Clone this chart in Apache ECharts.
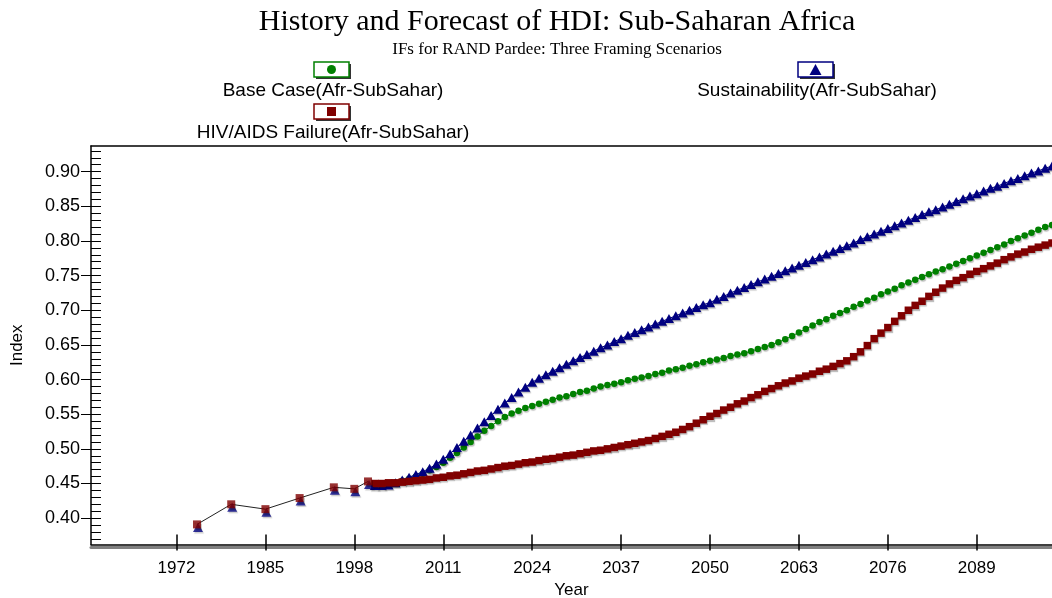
<!DOCTYPE html>
<html>
<head>
<meta charset="utf-8">
<title>History and Forecast of HDI: Sub-Saharan Africa</title>
<script src="https://cdn.jsdelivr.net/npm/echarts@6/dist/echarts.min.js"></script>
<style>
  html, body { margin: 0; padding: 0; background: #fff; }
  #main { width: 1052px; height: 598px; }
</style>
</head>
<body>
<div id="main"></div>
<script>
// history, shared by the three scenarios
var histYears = [1975, 1980, 1985, 1990, 1995, 1998, 2000];
var histValues = [0.391, 0.420, 0.413, 0.429, 0.4445, 0.4423, 0.453];

// forecasts, one value per year 2001 .. 2100
var firstForecastYear = 2001;
var baseCase = [
  0.448, 0.448, 0.449, 0.451, 0.454, 0.457, 0.460, 0.464, 0.469, 0.474,
  0.480, 0.487, 0.494, 0.502, 0.510, 0.518, 0.526, 0.533, 0.540, 0.546,
  0.551, 0.555, 0.559, 0.562, 0.565, 0.568, 0.571, 0.574, 0.576, 0.579,
  0.582, 0.584, 0.587, 0.590, 0.592, 0.594, 0.596, 0.599, 0.601, 0.603,
  0.605, 0.608, 0.610, 0.613, 0.615, 0.617, 0.620, 0.622, 0.625, 0.627,
  0.629, 0.631, 0.634, 0.636, 0.638, 0.641, 0.644, 0.647, 0.650, 0.654,
  0.658, 0.663, 0.668, 0.673, 0.678, 0.683, 0.687, 0.692, 0.696, 0.700,
  0.705, 0.709, 0.714, 0.718, 0.723, 0.727, 0.731, 0.736, 0.740, 0.744,
  0.748, 0.752, 0.756, 0.759, 0.763, 0.767, 0.771, 0.775, 0.779, 0.783,
  0.787, 0.791, 0.795, 0.800, 0.804, 0.808, 0.812, 0.816, 0.820, 0.823
];
var sustainability = [
  0.447, 0.447, 0.448, 0.451, 0.455, 0.459, 0.463, 0.467, 0.472, 0.478,
  0.485, 0.493, 0.502, 0.511, 0.520, 0.530, 0.539, 0.548, 0.557, 0.566,
  0.574, 0.582, 0.589, 0.596, 0.602, 0.607, 0.612, 0.617, 0.622, 0.627,
  0.632, 0.636, 0.641, 0.646, 0.650, 0.655, 0.659, 0.664, 0.668, 0.672,
  0.676, 0.680, 0.684, 0.688, 0.692, 0.696, 0.700, 0.704, 0.708, 0.711,
  0.716, 0.720, 0.725, 0.729, 0.733, 0.737, 0.741, 0.745, 0.749, 0.753,
  0.757, 0.761, 0.765, 0.769, 0.773, 0.777, 0.781, 0.785, 0.789, 0.793,
  0.797, 0.802, 0.806, 0.810, 0.814, 0.818, 0.822, 0.826, 0.830, 0.834,
  0.838, 0.842, 0.845, 0.849, 0.853, 0.857, 0.861, 0.865, 0.868, 0.872,
  0.876, 0.879, 0.883, 0.887, 0.890, 0.894, 0.898, 0.901, 0.905, 0.908
];
var hivFailure = [
  0.450, 0.450, 0.451, 0.451, 0.452, 0.453, 0.454, 0.455, 0.456, 0.458,
  0.459, 0.461, 0.462, 0.464, 0.466, 0.468, 0.469, 0.471, 0.473, 0.475,
  0.476, 0.478, 0.480, 0.481, 0.483, 0.485, 0.486, 0.488, 0.490, 0.491,
  0.493, 0.495, 0.497, 0.498, 0.500, 0.502, 0.504, 0.506, 0.508, 0.510,
  0.512, 0.515, 0.518, 0.521, 0.524, 0.528, 0.532, 0.537, 0.542, 0.547,
  0.551, 0.556, 0.560, 0.565, 0.569, 0.574, 0.578, 0.583, 0.587, 0.591,
  0.595, 0.598, 0.602, 0.605, 0.608, 0.612, 0.615, 0.619, 0.623, 0.627,
  0.633, 0.640, 0.649, 0.659, 0.667, 0.675, 0.684, 0.692, 0.700, 0.707,
  0.713, 0.720, 0.726, 0.732, 0.738, 0.743, 0.747, 0.752, 0.756, 0.760,
  0.764, 0.768, 0.773, 0.777, 0.781, 0.784, 0.788, 0.791, 0.794, 0.797
];

// tick labels
var xTicks = [1972, 1985, 1998, 2011, 2024, 2037, 2050, 2063, 2076, 2089];
var yTicks = [0.40, 0.45, 0.50, 0.55, 0.60, 0.65, 0.70, 0.75, 0.80, 0.85, 0.90];

var xMin = 1959.5, xMax = 2100;
var yMin = 0.362, yMax = 0.937;

// small inner ticks every 0.01
var yMinor = [];
for (var t = 37; t <= 93; t++) yMinor.push(t / 100);

function pairs(years, vals) {
  var out = [];
  for (var i = 0; i < vals.length; i++) out.push([years[i], vals[i]]);
  return out;
}
function forecast(vals) {
  var out = [];
  for (var i = 0; i < vals.length; i++) out.push([firstForecastYear + i, vals[i]]);
  return out;
}

var GREEN = '#008000', NAVY = '#000080', MAROON = '#800000';
var sans = 'Liberation Sans, Arial, sans-serif';
var serif = 'Liberation Serif, Times New Roman, serif';

// soft drop shadow the markers have in the original
function markStyle(color) {
  return { color: color, shadowColor: 'rgba(0,0,0,0.25)', shadowBlur: 1, shadowOffsetX: 1, shadowOffsetY: 1.5 };
}

function legendItem(cx, cy, color, marker, label) {
  return {
    type: 'group', x: cx, y: cy, silent: true,
    children: [
      { type: 'rect', shape: { x: -15, y: -5, width: 35, height: 15 }, style: { fill: '#333' } },
      { type: 'rect', shape: { x: -17, y: -7, width: 35, height: 15 },
        style: { fill: '#fff', stroke: color, lineWidth: 1.5 } },
      marker,
      { type: 'text', x: 2, y: 22,
        style: { text: label, fill: '#000', fontSize: 19, fontFamily: sans,
                 align: 'center', verticalAlign: 'middle', textAlign: 'center', textVerticalAlign: 'middle' } }
    ]
  };
}

var chart = echarts.init(document.getElementById('main'));

var option = {
  animation: false,
  backgroundColor: '#fff',
  title: [
    { text: 'History and Forecast of HDI: Sub-Saharan Africa', left: 552, top: 2, textAlign: 'center',
      textStyle: { fontFamily: serif, fontWeight: 'normal', fontSize: 30, color: '#000' } },
    { text: 'IFs for RAND Pardee: Three Framing Scenarios', left: 552, top: 36, textAlign: 'center',
      textStyle: { fontFamily: serif, fontWeight: 'normal', fontSize: 17, color: '#000' } }
  ],
  graphic: [
    legendItem(331, 69, GREEN,
      { type: 'circle', shape: { cx: 0.5, cy: 0.5, r: 4.5 }, style: { fill: GREEN } },
      'Base Case(Afr-SubSahar)'),
    legendItem(815, 69, NAVY,
      { type: 'polygon', shape: { points: [[0.5, -5], [6.5, 6], [-5.5, 6]] }, style: { fill: NAVY } },
      'Sustainability(Afr-SubSahar)'),
    legendItem(331, 111, MAROON,
      { type: 'rect', shape: { x: -4, y: -4, width: 9, height: 9 }, style: { fill: MAROON } },
      'HIV/AIDS Failure(Afr-SubSahar)')
  ],
  grid: { left: 91, right: 0, top: 146, bottom: 53.5, show: false, containLabel: false, outerBoundsMode: 'none' },
  xAxis: [
    {
      type: 'value', position: 'bottom', min: xMin, max: xMax,
      axisLine: { lineStyle: { color: '#000', width: 1.5 } },
      axisTick: { inside: false, length: 6, customValues: xTicks, lineStyle: { color: '#000', width: 1.5 } },
      axisLabel: { customValues: xTicks, margin: 15, fontSize: 17, fontFamily: sans, color: '#000',
                   formatter: function (v) { return String(v); } },
      splitLine: { show: false },
      name: 'Year', nameLocation: 'middle', nameGap: 35,
      nameTextStyle: { fontSize: 17, fontFamily: sans, color: '#000' }
    },
    {
      type: 'value', position: 'bottom', min: xMin, max: xMax,
      axisLine: { show: false },
      axisTick: { inside: true, length: 10, customValues: xTicks, lineStyle: { color: '#000', width: 1.5 } },
      axisLabel: { show: false }, splitLine: { show: false }
    },
    {
      // grey shadow under the x axis
      type: 'value', position: 'bottom', offset: 2.5, min: xMin, max: xMax,
      axisLine: { lineStyle: { color: '#808080', width: 3 } },
      axisTick: { show: false }, axisLabel: { show: false }, splitLine: { show: false }
    },
    {
      // top frame line
      type: 'value', position: 'top', min: xMin, max: xMax,
      axisLine: { lineStyle: { color: '#000', width: 1.5 } },
      axisTick: { show: false }, axisLabel: { show: false }, splitLine: { show: false }
    }
  ],
  yAxis: [
    {
      type: 'value', position: 'left', min: yMin, max: yMax,
      axisLine: { show: true, lineStyle: { color: '#000', width: 1.5 } },
      axisTick: { show: true, inside: false, length: 10, customValues: yTicks, lineStyle: { color: '#000' } },
      axisLabel: { customValues: yTicks, margin: 11, fontSize: 18, fontFamily: sans, color: '#000',
                   formatter: function (v) { return v.toFixed(2); } },
      splitLine: { show: false },
      name: 'Index', nameLocation: 'middle', nameGap: 65,
      nameTextStyle: { fontSize: 17, fontFamily: sans, color: '#000' }
    },
    {
      type: 'value', position: 'left', min: yMin, max: yMax,
      axisLine: { show: false },
      axisTick: { show: true, inside: true, length: 10, customValues: yMinor, lineStyle: { color: '#000' } },
      axisLabel: { show: false }, splitLine: { show: false }
    }
  ],
  series: [
    {
      name: 'History', type: 'line', data: pairs(histYears, histValues),
      symbol: 'none', lineStyle: { color: '#222', width: 1 }, z: 1
    },
    {
      name: 'Base Case(Afr-SubSahar)', type: 'line', data: forecast(baseCase),
      symbol: 'circle', symbolSize: 6.5, itemStyle: markStyle(GREEN),
      lineStyle: { color: GREEN, width: 1 }, z: 2
    },
    {
      name: 'Sustainability(Afr-SubSahar)', type: 'line', data: forecast(sustainability),
      symbol: 'triangle', symbolSize: [10, 9], itemStyle: markStyle(NAVY),
      lineStyle: { color: NAVY, width: 1 }, z: 3
    },
    {
      name: 'HIV/AIDS Failure(Afr-SubSahar)', type: 'line', data: forecast(hivFailure),
      symbol: 'rect', symbolSize: 7.5, itemStyle: markStyle(MAROON),
      lineStyle: { color: MAROON, width: 1 }, z: 4
    },
    {
      name: 'History Sustainability', type: 'scatter', data: pairs(histYears, histValues),
      symbol: 'triangle', symbolSize: [10, 9], symbolOffset: [1, 3], itemStyle: markStyle(NAVY), z: 5
    },
    {
      name: 'History HIV', type: 'scatter', data: pairs(histYears, histValues),
      symbol: 'rect', symbolSize: 8, itemStyle: markStyle(MAROON), z: 6
    }
  ]
};

chart.setOption(option);
</script>
</body>
</html>
